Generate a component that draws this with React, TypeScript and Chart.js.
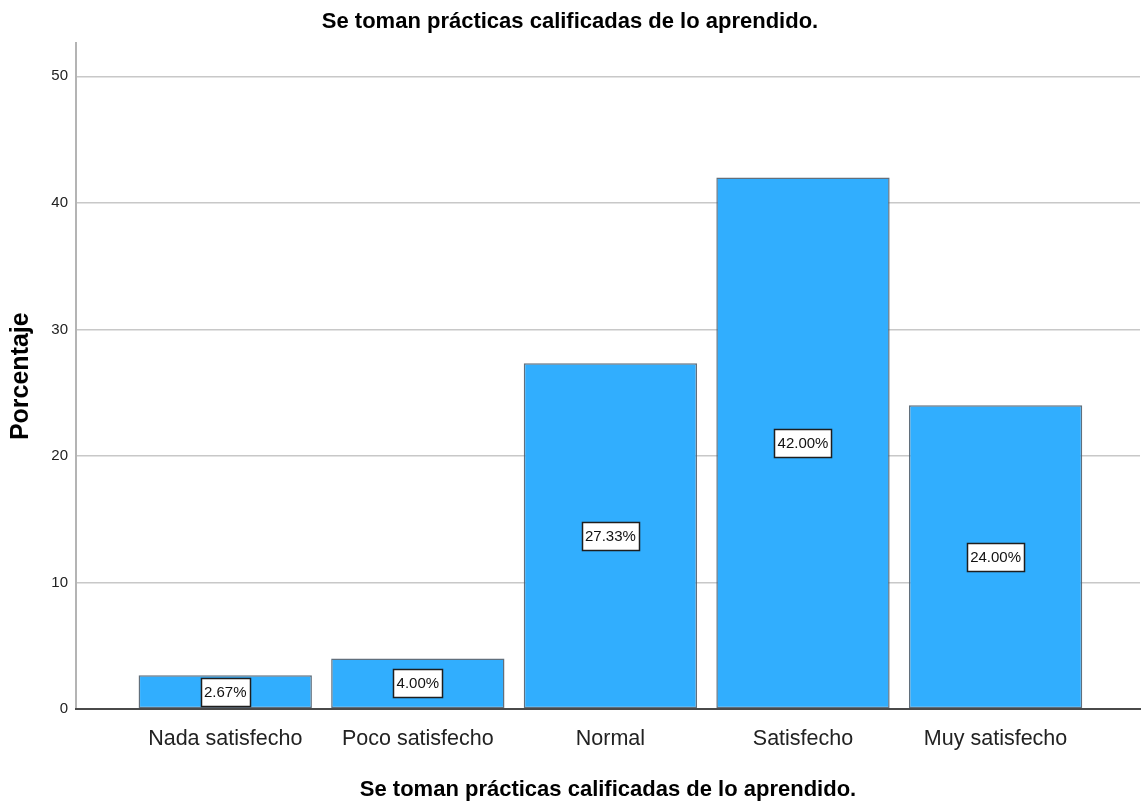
import { useEffect, useRef } from 'react';
import { Chart, registerables } from 'chart.js';

Chart.register(...registerables);

const categories = ['Nada satisfecho', 'Poco satisfecho', 'Normal', 'Satisfecho', 'Muy satisfecho'];
const percentages = [2.67, 4.0, 27.33, 42.0, 24.0];
const percentLabels = ['2.67%', '4.00%', '27.33%', '42.00%', '24.00%'];
const yTickValues = [0, 10, 20, 30, 40, 50];
const chartTitle = 'Se toman prácticas calificadas de lo aprendido.';
const xAxisTitle = 'Se toman prácticas calificadas de lo aprendido.';
const yAxisTitle = 'Porcentaje';

const FONT = '"Liberation Sans", Arial, sans-serif';

const labelPlugin = {
  id: 'barValueBoxes',
  afterDatasetsDraw(chart: any) {
    const ctx = chart.ctx;
    const meta = chart.getDatasetMeta(0);
    ctx.save();
    ctx.font = `15px ${FONT}`;
    ctx.textAlign = 'center';
    ctx.textBaseline = 'middle';
    meta.data.forEach((el: any, i: number) => {
      const { x, y, base } = el.getProps(['x', 'y', 'base'], true);
      const cy = (y + base) / 2;
      const text = percentLabels[i];
      const w = Math.round(ctx.measureText(text).width + 6);
      const h = 28;
      const left = Math.round(x - w / 2) + 0.5;
      const top = Math.round(cy - h / 2) + 0.5;
      ctx.fillStyle = '#ffffff';
      ctx.fillRect(left, top, w, h);
      ctx.strokeStyle = '#1e1e1e';
      ctx.lineWidth = 1.5;
      ctx.strokeRect(left, top, w, h);
      ctx.fillStyle = '#111111';
      ctx.fillText(text, x, cy + 1);
    });
    ctx.restore();
  },
};

export default function App() {
  const canvasRef = useRef<HTMLCanvasElement | null>(null);

  useEffect(() => {
    if (!canvasRef.current) return;
    const chart = new Chart(canvasRef.current, {
      type: 'bar',
      data: {
        datasets: [
          {
            data: percentages.map((v, i) => ({ x: i, y: v })),
            backgroundColor: '#31aefe',
            borderColor: 'rgba(80,95,110,0.9)',
            borderWidth: 1.5,
            borderSkipped: false,
            categoryPercentage: 1,
            barPercentage: 0.9,
          } as any,
        ],
      },
      options: {
        responsive: false,
        animation: false,
        layout: { padding: { left: 0, right: 2, top: 0, bottom: 0 } },
        plugins: {
          legend: { display: false },
          tooltip: { enabled: false },
          title: {
            display: true,
            text: chartTitle,
            color: '#000',
            font: { family: FONT, size: 22, weight: 'bold' },
            padding: { top: 9, bottom: 8 },
          },
        },
        scales: {
          x: {
            type: 'linear',
            offset: false,
            min: -0.775,
            max: 4.75,
            afterBuildTicks: (scale: any) => {
              scale.ticks = categories.map((_, i) => ({ value: i }));
            },
            afterFit: (scale: any) => {
              scale.height = 96;
            },
            grid: { display: false, drawTicks: false, offset: false },
            border: { display: true, color: '#4a4a4a', width: 2, z: 1 },
            ticks: {
              autoSkip: false,
              maxRotation: 0,
              padding: 17,
              color: '#222',
              font: { family: FONT, size: 21.5 },
              callback: (v: any) => categories[v as number] ?? '',
            },
            title: {
              display: true,
              text: xAxisTitle,
              color: '#000',
              font: { family: FONT, size: 22, weight: 'bold' },
              padding: { top: 0, bottom: 2 },
            },
          },
          y: {
            type: 'linear',
            min: 0,
            max: 52.6,
            afterBuildTicks: (scale: any) => {
              scale.ticks = yTickValues.map((v) => ({ value: v }));
            },
            afterFit: (scale: any) => {
              scale.width = 76;
            },
            grid: { color: '#c8c8c8', lineWidth: 1.5, drawTicks: false },
            border: { display: true, color: '#b4b4b4', width: 2 },
            ticks: {
              padding: 8,
              color: '#222',
              font: { family: FONT, size: 15 },
            },
            title: {
              display: true,
              text: yAxisTitle,
              color: '#000',
              font: { family: FONT, size: 25, weight: 'bold' },
              padding: { top: 6, bottom: 0 },
            },
          },
        },
      } as any,
      plugins: [labelPlugin],
    });
    return () => chart.destroy();
  }, []);

  return (
    <div style={{ position: 'absolute', left: 0, top: 0, width: 1142, height: 805, background: '#fff' }}>
      <canvas ref={canvasRef} width={1142} height={805} style={{ display: 'block' }} />
    </div>
  );
}
